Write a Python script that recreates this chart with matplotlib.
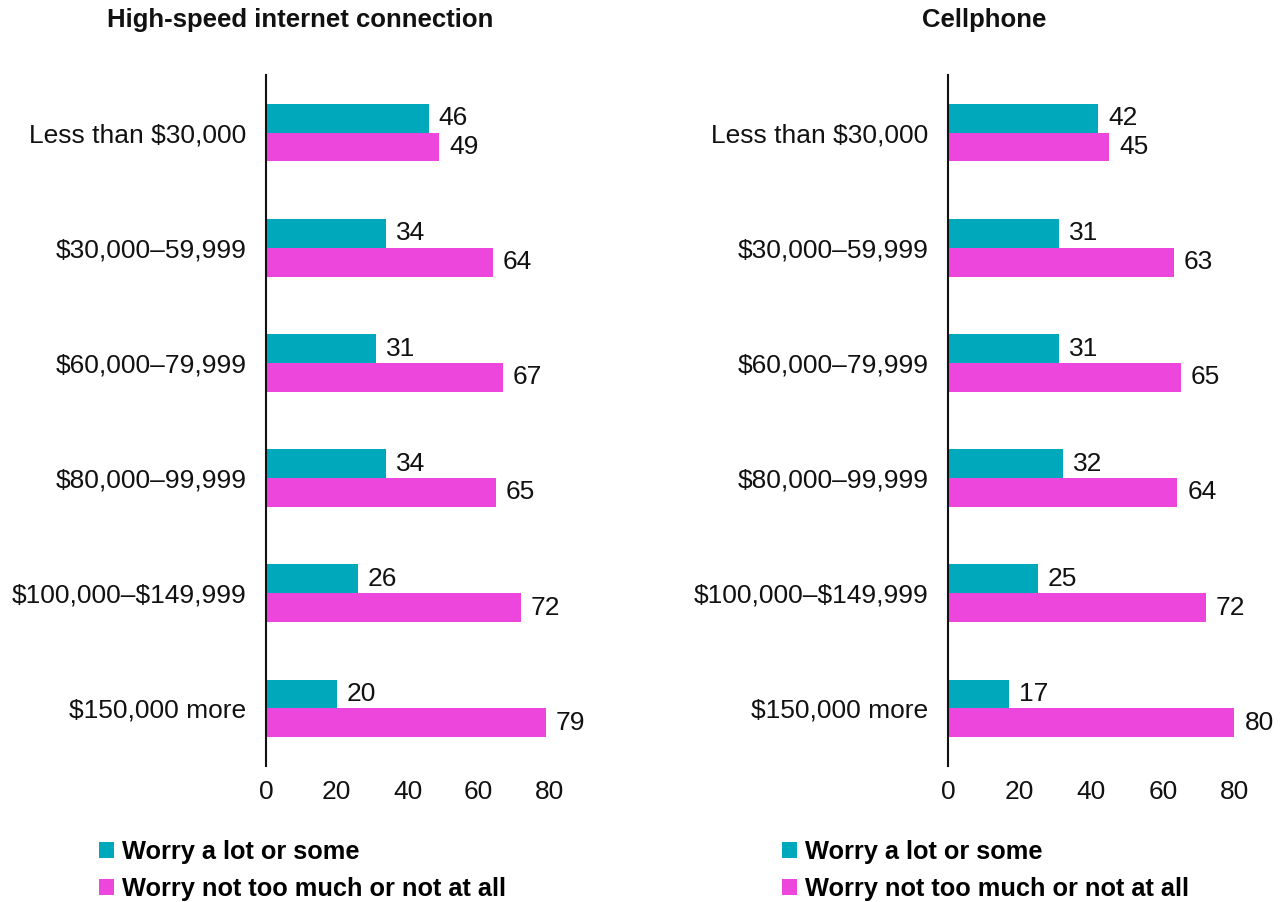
import matplotlib
matplotlib.use("Agg")
import matplotlib.pyplot as plt
from matplotlib.patches import Patch
import numpy as np

plt.rcParams['font.family'] = ['Liberation Sans', 'DejaVu Sans']
plt.rcParams['text.parse_math'] = False

categories = ["Less than $30,000", "$30,000–59,999", "$60,000–79,999",
              "$80,000–99,999", "$100,000–$149,999", "$150,000 more"]
internet_worry = [46, 34, 31, 34, 26, 20]
internet_not = [49, 64, 67, 65, 72, 79]
cell_worry = [42, 31, 31, 32, 25, 17]
cell_not = [45, 63, 65, 64, 72, 80]
xticks = [0, 20, 40, 60, 80]
series_names = ["Worry a lot or some", "Worry not too much or not at all"]
titles = ["High-speed internet connection", "Cellphone"]

TEAL = "#00a8bb"
PINK = "#ec46dc"

W, H = 1283, 902
fig = plt.figure(figsize=(W / 100, H / 100), dpi=100)

def px_axes(x0, x1, y0, y1):
    return fig.add_axes([x0 / W, 1 - y1 / H, (x1 - x0) / W, (y1 - y0) / H])

panels = [
    (266, 3.54, internet_worry, internet_not, 300, 99),
    (948, 3.58, cell_worry, cell_not, 984, 782),
]

FS = 19

for i, (x0, ppu, worry, notw, tcx, lx) in enumerate(panels):
    xmax = 90
    ax = px_axes(x0, x0 + xmax * ppu, 75, 766)
    y = np.arange(len(categories))
    h = 0.25
    ax.barh(y - h / 2, worry, height=h, color=TEAL)
    ax.barh(y + h / 2, notw, height=h, color=PINK)
    for yy, v in zip(y, worry):
        ax.text(v + 2.8, yy - h / 2, str(v), va='center', ha='left', fontsize=FS, color='#111111')
    for yy, v in zip(y, notw):
        ax.text(v + 2.8, yy + h / 2, str(v), va='center', ha='left', fontsize=FS, color='#111111')
    ax.set_ylim(len(categories) - 0.5, -0.5)
    ax.set_xlim(0, xmax)
    ax.set_yticks(y)
    ax.set_yticklabels(categories, fontsize=FS, color='#111111')
    ax.set_xticks(xticks)
    ax.set_xticklabels([str(t) for t in xticks], fontsize=FS, color='#111111')
    ax.tick_params(axis='both', length=0)
    ax.tick_params(axis='y', pad=14)
    ax.tick_params(axis='x', pad=10)
    for s in ['top', 'right', 'bottom']:
        ax.spines[s].set_visible(False)
    ax.spines['left'].set_linewidth(1.5)
    ax.spines['left'].set_color('#111111')

    fig.text(tcx / W, 1 - 20 / H, titles[i], ha='center', va='center',
             fontsize=18.5, fontweight='bold', color='#111111')

    handles = [Patch(facecolor=TEAL, edgecolor='none'), Patch(facecolor=PINK, edgecolor='none')]
    fig.legend(handles, series_names, loc='upper left',
               bbox_to_anchor=(lx / W, 1 - 840 / H), frameon=False,
               prop={'size': 18.3, 'weight': 'bold'}, handlelength=0.6, handleheight=0.6,
               handletextpad=0.3, labelspacing=0.5, borderpad=0, borderaxespad=0)

fig.savefig("out.png", dpi=100)
